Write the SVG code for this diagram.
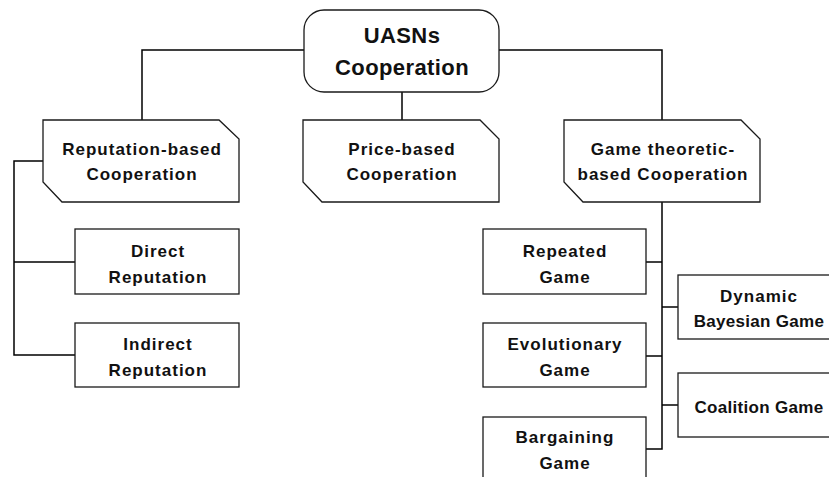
<svg xmlns="http://www.w3.org/2000/svg" width="829" height="477" viewBox="0 0 829 477">
<style>
.box{fill:#fff;stroke:#1a1a1a;stroke-width:1.3}
.con{fill:none;stroke:#000;stroke-width:1.5}
text{font-family:"Liberation Sans",Arial,sans-serif;font-weight:bold;fill:#111;text-anchor:middle}
.t{font-size:17px;letter-spacing:1px}
.tn{letter-spacing:0.3px}
.big{font-size:22px;letter-spacing:0.4px}
</style>
<rect width="829" height="477" fill="#fff"/>
<g id="connectors">
<polyline class="con" points="304,50 142,50 142,120"/>
<polyline class="con" points="499,50 662,50 662,120"/>
<line class="con" x1="402" y1="92" x2="402" y2="120"/>
<polyline class="con" points="43,161 14,161 14,355 75,355"/>
<line class="con" x1="14" y1="262" x2="75" y2="262"/>
<polyline class="con" points="662,202 662,449 646,449"/>
<line class="con" x1="646" y1="262" x2="662" y2="262"/>
<line class="con" x1="646" y1="356" x2="662" y2="356"/>
<line class="con" x1="662" y1="307" x2="678" y2="307"/>
<line class="con" x1="662" y1="405" x2="678" y2="405"/>
</g>
<g id="root">
<rect class="box" x="304" y="10" width="195" height="82" rx="20"/>
<text class="big" x="402" y="43">UASNs</text>
<text class="big" x="402" y="75">Cooperation</text>
</g>
<g id="reputation">
<polygon class="box" points="43,120 219,120 239,139 239,202 62,202 43,182"/>
<text class="t" x="142" y="155">Reputation-based</text>
<text class="t" x="142" y="180">Cooperation</text>
</g>
<g id="price">
<polygon class="box" points="303,120 480,120 499,139 499,202 322,202 303,182"/>
<text class="t" x="402" y="155">Price-based</text>
<text class="t" x="402" y="180">Cooperation</text>
</g>
<g id="game">
<polygon class="box" points="564,120 741,120 760,139 760,202 583,202 564,182"/>
<text class="t" x="663" y="155">Game theoretic-</text>
<text class="t" x="663" y="180">based Cooperation</text>
</g>
<g id="direct">
<rect class="box" x="75" y="229" width="164" height="65"/>
<text class="t" x="158" y="257">Direct</text>
<text class="t" x="158" y="283">Reputation</text>
</g>
<g id="indirect">
<rect class="box" x="75" y="323" width="164" height="64"/>
<text class="t" x="158" y="350">Indirect</text>
<text class="t" x="158" y="376">Reputation</text>
</g>
<g id="repeated">
<rect class="box" x="483" y="229" width="163" height="65"/>
<text class="t" x="565" y="257">Repeated</text>
<text class="t" x="565" y="283">Game</text>
</g>
<g id="evolutionary">
<rect class="box" x="483" y="323" width="163" height="64"/>
<text class="t" x="565" y="350">Evolutionary</text>
<text class="t" x="565" y="376">Game</text>
</g>
<g id="bargaining">
<rect class="box" x="483" y="417" width="163" height="70"/>
<text class="t" x="565" y="443">Bargaining</text>
<text class="t" x="565" y="469">Game</text>
</g>
<g id="dynamic">
<rect class="box" x="678" y="275" width="164" height="64"/>
<text class="t" x="759" y="302">Dynamic</text>
<text class="t tn" x="759" y="327">Bayesian Game</text>
</g>
<g id="coalition">
<rect class="box" x="678" y="373" width="164" height="64"/>
<text class="t tn" x="759" y="413">Coalition Game</text>
</g>
</svg>
